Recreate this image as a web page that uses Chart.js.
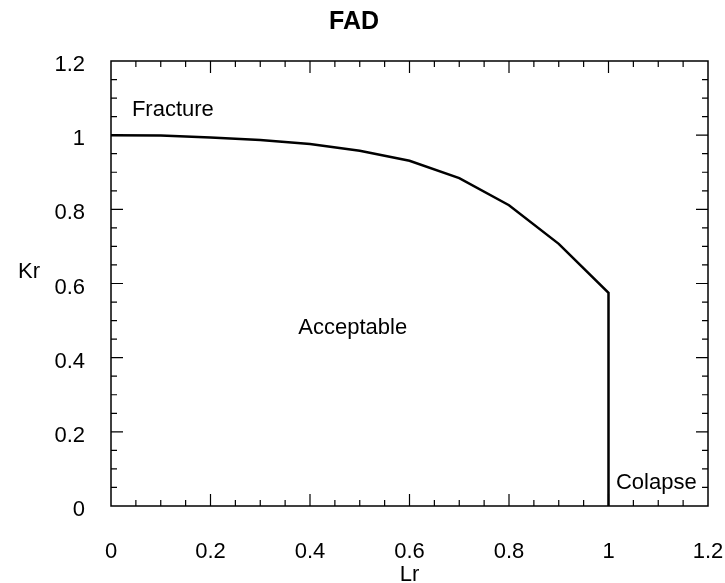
<!DOCTYPE html>
<html>
<head>
<meta charset="utf-8">
<title>FAD</title>
<script src="https://cdn.jsdelivr.net/npm/chart.js@4"></script>
<style>
  html, body { margin: 0; padding: 0; background: #fff; }
  #wrap { width: 725px; height: 583px; }
</style>
</head>
<body>
<div id="wrap"><canvas id="ChartFAD"></canvas></div>
<script>
// Curva de evaluación (Lr, Kr) y corte en Lr = 1
const Lr = [0, 0.1, 0.2, 0.3, 0.4, 0.5, 0.6, 0.7, 0.8, 0.9, 1.0, 1.0]
const Kr = [1.0, 0.999, 0.994, 0.987, 0.976, 0.958, 0.931, 0.884, 0.811, 0.707, 0.575, 0]

const ticksX = [0, 0.2, 0.4, 0.6, 0.8, 1, 1.2]
const ticksY = [0, 0.2, 0.4, 0.6, 0.8, 1, 1.2]

// Textos dentro del gráfico: [texto, Lr, Kr, alineación]
const zonas = [
    ["Fracture", 0.042, 1.068, "left"],
    ["Acceptable", 0.486, 0.48, "center"],
    ["Colapse", 1.096, 0.062, "center"]
]

const fuente = "'Liberation Sans', Arial, sans-serif"
const puntos = Lr.map((x, i) => ({ x: x, y: Kr[i] }))

// Marco, marcas hacia adentro en los 4 lados, textos de zonas y nombres de ejes
const marcoFAD = {
    id: 'marcoFAD',
    afterDatasetsDraw(chart) {
        const ctx = chart.ctx
        const a = chart.chartArea
        const sx = chart.scales.x
        const sy = chart.scales.y
        ctx.save()
        ctx.strokeStyle = '#000'
        ctx.lineWidth = 1.5
        ctx.strokeRect(a.left, a.top, a.right - a.left, a.bottom - a.top)

        ctx.lineWidth = 1.2
        ctx.beginPath()
        for (let k = 1; k < 24; k++) {
            const v = k * 0.05
            const largo = (k % 4 === 0) ? 12 : 6
            const px = sx.getPixelForValue(v)
            const py = sy.getPixelForValue(v)
            ctx.moveTo(px, a.bottom); ctx.lineTo(px, a.bottom - largo)
            ctx.moveTo(px, a.top); ctx.lineTo(px, a.top + largo)
            ctx.moveTo(a.left, py); ctx.lineTo(a.left + largo, py)
            ctx.moveTo(a.right, py); ctx.lineTo(a.right - largo, py)
        }
        ctx.stroke()

        ctx.fillStyle = '#000'
        ctx.font = '22px ' + fuente
        ctx.textBaseline = 'middle'
        zonas.forEach(z => {
            ctx.textAlign = z[3]
            ctx.fillText(z[0], sx.getPixelForValue(z[1]), sy.getPixelForValue(z[2]))
        })

        ctx.textAlign = 'center'
        ctx.fillText('Kr', 29, 272)
        ctx.fillText('Lr', (a.left + a.right) / 2, 575)
        ctx.restore()
    }
}

const ChartFAD = document.getElementById('ChartFAD')
const myChart = new Chart(ChartFAD, {
    type: 'scatter',
    data: {
        datasets: [{
            data: puntos,
            showLine: true,
            borderColor: '#000',
            borderWidth: 2.5,
            pointRadius: 0,
            tension: 0
        }]
    },
    options: {
        responsive: true,
        maintainAspectRatio: false,
        animation: false,
        layout: { padding: { left: 0, right: 17, top: 0, bottom: 0 } },
        plugins: {
            legend: { display: false },
            tooltip: { enabled: false },
            title: {
                display: true,
                text: 'FAD',
                color: '#000',
                font: { family: fuente, size: 25, weight: 'bold' },
                padding: { top: 7, bottom: 24 }
            }
        },
        scales: {
            x: {
                type: 'linear',
                min: 0,
                max: 1.2,
                grid: { display: false },
                border: { display: false },
                afterBuildTicks: (s) => { s.ticks = ticksX.map(v => ({ value: v })) },
                afterFit: (s) => {
                    s.height = 77
                    s.paddingLeft = 0
                    s.paddingRight = 0
                },
                ticks: {
                    color: '#000',
                    padding: 25,
                    maxRotation: 0,
                    font: { family: fuente, size: 22 },
                    callback: (v) => String(v)
                }
            },
            y: {
                type: 'linear',
                min: 0,
                max: 1.2,
                grid: { display: false },
                border: { display: false },
                afterBuildTicks: (s) => { s.ticks = ticksY.map(v => ({ value: v })) },
                afterFit: (s) => {
                    s.width = 111
                    s.paddingTop = 0
                    s.paddingBottom = 0
                },
                ticks: {
                    color: '#000',
                    padding: 18,
                    labelOffset: 4,
                    font: { family: fuente, size: 22 },
                    callback: (v) => String(v)
                }
            }
        }
    },
    plugins: [marcoFAD]
})
</script>
</body>
</html>
